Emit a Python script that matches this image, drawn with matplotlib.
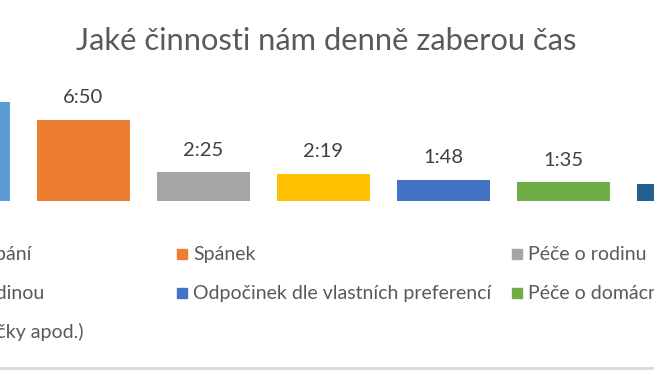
import matplotlib.pyplot as plt
from matplotlib.patches import Rectangle
from matplotlib.lines import Line2D

categories = [
    'Péče o dítě, koupání',
    'Spánek',
    'Péče o rodinu',
    'Čas trávený s rodinou',
    'Odpočinek dle vlastních preferencí',
    'Péče o domácnost',
    'Ostatní (hry, hračky apod.)',
]
minutes = [500, 410, 145, 139, 108, 95, 88]
colors = ['#5B9BD5', '#ED7D31', '#A5A5A5', '#FFC000', '#4472C4', '#70AD47', '#255E91']

W, H = 654, 370
plt.rcParams['font.family'] = ['Lato', 'DejaVu Sans']


def fx(x):
    return x / W


def fy(y):
    return 1 - y / H


fig = plt.figure(figsize=(W / 100, H / 100), dpi=100)

# plot area runs past both edges of the picture (cropped screenshot)
ax = fig.add_axes([fx(-96.5), fy(201), 840 / W, 118.6 / H])
x_pos = list(range(len(categories)))
bars = ax.bar(x_pos, minutes, width=0.775, color=colors)
ax.set_xlim(-0.5, len(categories) - 0.5)
ax.set_ylim(0, 600)
ax.axis('off')

for b, m in zip(bars, minutes):
    ax.annotate('%d:%02d' % (m // 60, m % 60), (b.get_x() + b.get_width() / 2, m),
                xytext=(0, 12), textcoords='offset points', ha='center', va='baseline',
                fontsize=14.5, color='#404040')

fig.text(fx(326), fy(50), 'Jaké činnosti nám denně zaberou čas', ha='center', va='baseline',
         fontsize=22.2, color='#595959')

# legend, 3 columns like Excel
for i, (name, c) in enumerate(zip(categories, colors)):
    col, row = i % 3, i // 3
    x0 = -158 + col * 335
    yc = 253.5 + row * 39
    fig.patches.append(Rectangle((fx(x0), fy(yc + 5)), 10 / W, 10 / H, color=c,
                                 transform=fig.transFigure, figure=fig))
    fig.text(fx(x0 + 16), fy(yc + 6.5), name, ha='left', va='baseline',
             fontsize=14, color='#595959')

fig.lines.append(Line2D([0, 1], [fy(368), fy(368)], color='#D9D9D9', lw=2,
                        transform=fig.transFigure, figure=fig))

fig.savefig('out.png', dpi=100)
